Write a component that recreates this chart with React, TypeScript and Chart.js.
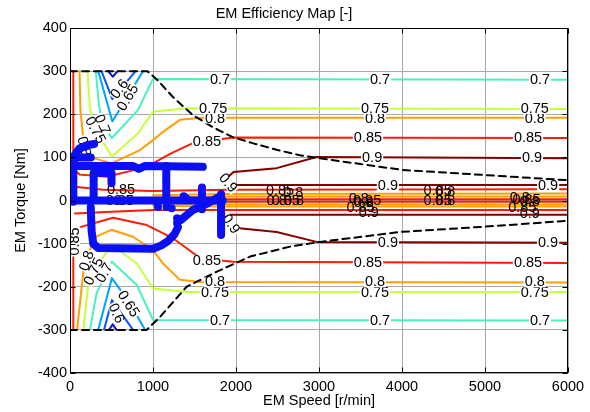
import { useEffect, useRef } from 'react';
import { Chart, registerables } from 'chart.js';

Chart.register(...registerables);

type P = [number, number];

const chartTitle = 'EM Efficiency Map [-]';
const xAxisTitle = 'EM Speed [r/min]';
const yAxisTitle = 'EM Torque [Nm]';

const speedRange: P = [0, 6000];
const torqueRange: P = [-400, 400];
const speedStep = 1000;
const torqueStep = 100;

// Efficiency contour lines (speed r/min, torque Nm)
const eff055Up: P[] = [[460, 300], [515, 287], [575, 300]];
const eff060Up: P[] = [[380, 300], [510, 235], [790, 300]];
const eff065Up: P[] = [[340, 300], [510, 183], [880, 300]];
const eff070Up: P[] = [[310, 300], [350, 220], [400, 170], [505, 145], [820, 210], [1000, 282], [6000, 280]];
const eff075Up: P[] = [[210, 300], [240, 215], [300, 165], [505, 102], [820, 156], [1000, 206], [1405, 214], [6000, 212]];
const eff080Up: P[] = [[115, 300], [125, 210], [165, 135], [250, 100], [500, 86], [843, 117], [1000, 140], [1120, 159], [1325, 187], [1600, 192], [6000, 192]];
const eff085Up: P[] = [[40, 300], [40, 110], [50, 70], [120, 60], [445, 55], [925, 78], [1205, 108], [1480, 133], [1964, 146], [6000, 145]];
const eff090Up: P[] = [[6000, 98], [2970, 101], [2490, 75], [1970, 66], [1890, 52], [1890, 40], [1930, 36], [6000, 36]];
const eff085UpInner: P[] = [[60, 32], [400, 25], [1000, 22], [1900, 25], [6000, 26]];
const eff080UpInner: P[] = [[1000, 12], [1900, 15], [6000, 16]];
const eff080UpCore: P[] = [[900, 6], [1900, 9], [6000, 9]];
const eff085UpCore: P[] = [[0, 3], [6000, 3]];
const eff085LoCore: P[] = [[0, -3], [6000, -3]];
const eff080LoCore: P[] = [[900, -6], [1900, -9], [6000, -9]];
const eff080LoInner: P[] = [[1000, -12], [1900, -14], [6000, -14]];
const eff085LoInner: P[] = [[60, -30], [500, -26], [1000, -22], [1900, -22], [6000, -22]];
const eff090Lo: P[] = [[6000, -33], [1880, -33], [1880, -44], [1910, -58], [2010, -64], [2490, -73], [2970, -96], [6000, -98]];
const eff085Lo: P[] = [[40, -300], [40, -107], [80, -64], [520, -40], [925, -57], [1245, -88], [1570, -134], [1965, -142], [6000, -145]];
const eff080Lo: P[] = [[85, -300], [120, -238], [170, -150], [300, -85], [500, -68], [760, -84], [1000, -115], [1120, -146], [1325, -184], [1570, -189], [6000, -190]];
const eff075Lo: P[] = [[160, -300], [220, -196], [360, -142], [505, -103], [805, -146], [1000, -204], [1405, -212], [6000, -212]];
const eff070Lo: P[] = [[240, -300], [320, -215], [505, -142], [805, -196], [1000, -277], [6000, -278]];
const eff065Lo: P[] = [[340, -300], [505, -180], [700, -232], [905, -300]];
const eff060Lo: P[] = [[410, -300], [505, -231], [760, -300]];
const eff055Lo: P[] = [[470, -300], [515, -287], [560, -300]];

// Max torque envelope (dashed)
const maxTorqueUp: P[] = [[0, 300], [930, 300], [1050, 280], [1240, 240], [1480, 198], [1720, 170], [1960, 147], [2200, 133], [2500, 117], [2770, 105], [3000, 98], [4000, 71], [5000, 59], [6000, 47]];
const maxTorqueLo: P[] = [[0, -300], [925, -300], [1085, -270], [1405, -200], [1770, -165], [2170, -130], [2650, -107], [3012, -96], [3976, -73], [4976, -61], [6000, -47]];

// Operating points (blue)
const opTrace1: P[] = [[40, -3], [40, 80], [55, 105], [110, 120], [200, 128], [290, 131]];
const opTrace2: P[] = [[40, 100], [250, 100]];
const opTrace3: P[] = [[40, 80], [760, 80], [830, 73], [900, 80], [1600, 78]];
const opTrace4: P[] = [[285, 5], [285, 64], [500, 64], [500, 40]];
const opTrace5: P[] = [[1160, 80], [1160, 0]];
const opTrace6: P[] = [[0, 0], [1840, 0]];
const opTrace7: P[] = [[250, -15], [260, -70], [280, -100], [340, -110], [1000, -112], [1100, -104], [1180, -94], [1260, -78], [1300, -62]];
const opTrace8: P[] = [[1590, 30], [1590, -20]];
const opTrace9: P[] = [[1330, -46], [1480, -22], [1665, -6], [1770, 6]];
const opTrace10: P[] = [[1820, 15], [1820, -80]];
const opDots: P[] = [[1060, -15], [1050, -6], [1165, -15], [1225, -18], [1290, -41], [1290, -52], [1370, 10], [1400, 5]];

// Contour labels: text, speed, torque, angle, boxed
const contourLabels: [string, number, number, number, number][] = [
  ['0.7', 1807, 280, 0, 1], ['0.7', 3735, 280, 0, 1], ['0.7', 5663, 280, 0, 1],
  ['0.8', 1747, 190, 0, 1], ['0.8', 3675, 190, 0, 1], ['0.8', 5600, 190, 0, 1],
  ['0.75', 1725, 212, 0, 1], ['0.75', 3675, 212, 0, 1], ['0.75', 5600, 212, 0, 1],
  ['0.85', 1650, 136, 0, 1], ['0.85', 3590, 145, 0, 1], ['0.85', 5518, 145, 0, 1],
  ['0.9', 3640, 98, 0, 1], ['0.9', 5566, 98, 0, 1],
  ['0.9', 3830, 33, 0, 1], ['0.9', 5760, 33, 0, 1],
  ['0.7', 1807, -280, 0, 1], ['0.7', 3735, -280, 0, 1], ['0.7', 5663, -280, 0, 1],
  ['0.75', 1747, -214, 0, 1], ['0.75', 3675, -214, 0, 1], ['0.75', 5600, -214, 0, 1],
  ['0.8', 1747, -190, 0, 1], ['0.8', 3675, -190, 0, 1], ['0.8', 5600, -190, 0, 1],
  ['0.85', 1650, -140, 0, 1], ['0.85', 3590, -145, 0, 1], ['0.85', 5518, -145, 0, 1],
  ['0.9', 3830, -98, 0, 1], ['0.9', 5760, -98, 0, 1],
  ['0.6', 600, 258, -53, 1], ['0.65', 700, 238, -59, 1], ['0.7', 385, 176, 66, 1],
  ['0.75', 300, 163, 62, 1], ['0.8', 165, 125, 75, 1],
  ['0.85', 62, -95, -90, 1], ['0.8', 205, -140, -72, 1], ['0.75', 290, -165, -65, 1],
  ['0.7', 420, -168, -60, 1], ['0.65', 700, -240, 58, 1], ['0.6', 555, -262, 65, 1],
  ['0.9', 1900, 40, 50, 1], ['0.9', 1935, -55, 55, 1],
  ['0.85', 615, 24, 0, 0], ['0.85', 600, 0, 0, 0], ['0.8', 650, 0, 0, 0],
  ['0.85', 2530, 22, 0, 0], ['0.8', 2690, 18, 0, 0], ['0.8', 2490, -1, 0, 0], ['0.85', 2600, -1, 0, 0], ['0.8', 2700, -1, 0, 0],
  ['0.8', 3480, 4, 0, 0], ['0.85', 3580, 0, 0, 0], ['0.8', 3540, -6, 0, 0], ['0.85', 3500, -18, 0, 0], ['0.9', 3600, -30, 0, 0],
  ['0.85', 4430, 23, 0, 0], ['0.8', 4520, 20, 0, 0], ['0.85', 4430, -1, 0, 0], ['0.8', 4520, -1, 0, 0],
  ['0.8', 5420, 6, 0, 0], ['0.85', 5500, 2, 0, 0], ['0.8', 5540, -4, 0, 0], ['0.85', 5450, -17, 0, 0], ['0.9', 5540, -32, 0, 0],
];

const levelColors: Record<string, string> = {
  '0.55': '#0812c0',
  '0.6': '#0a55ff',
  '0.65': '#00a6ff',
  '0.7': '#48f2bf',
  '0.75': '#c6ff3c',
  '0.8': '#ffa000',
  '0.85': '#ff1c00',
  '0.9': '#820000',
};

const contourSet: [string, P[]][] = [
  ['0.55', eff055Up], ['0.6', eff060Up], ['0.65', eff065Up], ['0.7', eff070Up], ['0.75', eff075Up],
  ['0.8', eff080Up], ['0.85', eff085Up], ['0.9', eff090Up],
  ['0.85', eff085UpInner], ['0.8', eff080UpInner], ['0.8', eff080UpCore], ['0.85', eff085UpCore],
  ['0.85', eff085LoCore], ['0.8', eff080LoCore], ['0.8', eff080LoInner], ['0.85', eff085LoInner],
  ['0.9', eff090Lo], ['0.85', eff085Lo], ['0.8', eff080Lo], ['0.75', eff075Lo], ['0.7', eff070Lo],
  ['0.65', eff065Lo], ['0.6', eff060Lo], ['0.55', eff055Lo],
];

const opTraces: P[][] = [opTrace1, opTrace2, opTrace3, opTrace4, opTrace5, opTrace6, opTrace7, opTrace8, opTrace9, opTrace10];

const FONT = '"Liberation Sans", Arial, Helvetica, sans-serif';
const FS = 14.5;
const OP_BLUE = '#0a0ff5';

const toXY = (pts: P[]) => pts.map(([x, y]) => ({ x, y }));

function lineDs(pts: P[], color: string, width: number, dash: number[] = [], clip: any = undefined) {
  return {
    data: toXY(pts),
    showLine: true,
    borderColor: color,
    backgroundColor: color,
    borderWidth: width,
    borderDash: dash,
    pointRadius: 0,
    pointHoverRadius: 0,
    fill: false,
    tension: 0,
    borderCapStyle: 'round',
    borderJoinStyle: 'round',
    clip,
  };
}

export default function App() {
  const ref = useRef<HTMLCanvasElement>(null);
  useEffect(() => {
    document.body.style.margin = '0';
    const blueSets: any[] = opTraces.map((t) => lineDs(t, OP_BLUE, 8, [], 0));
    blueSets.push({
      data: toXY(opDots), showLine: false, pointRadius: 4, pointBackgroundColor: OP_BLUE,
      pointBorderWidth: 0, clip: 0,
    });
    const labelAfterIndex = blueSets.length;
    const dashSets = [
      lineDs(maxTorqueUp, '#000', 2, [7, 5]),
      lineDs(maxTorqueLo, '#000', 2, [7, 5]),
    ];
    const contourSets = contourSet.map(([lvl, pts]) => lineDs(pts, levelColors[lvl], 2));

    const overlay = {
      id: 'overlay',
      afterDatasetDraw(chart: any, args: any) {
        if (args.index !== labelAfterIndex) return;
        const { ctx, chartArea: a, scales } = chart;
        ctx.save();
        ctx.beginPath();
        ctx.rect(a.left, a.top, a.right - a.left, a.bottom - a.top);
        ctx.clip();
        ctx.font = `${FS}px ${FONT}`;
        ctx.textAlign = 'center';
        ctx.textBaseline = 'middle';
        for (const [t, sx, ty, ang, boxed] of contourLabels) {
          const px = scales.x.getPixelForValue(sx);
          const py = scales.y.getPixelForValue(ty);
          ctx.save();
          ctx.translate(px, py);
          ctx.rotate((ang * Math.PI) / 180);
          if (boxed) {
            const w = ctx.measureText(t).width;
            ctx.fillStyle = '#fff';
            ctx.fillRect(-w / 2 - 1, -5, w + 2, 10);
          }
          ctx.fillStyle = '#000';
          ctx.fillText(t, 0, 0);
          ctx.restore();
        }
        ctx.restore();
      },
      afterDraw(chart: any) {
        const { ctx, chartArea: a, scales } = chart;
        ctx.save();
        ctx.strokeStyle = '#000';
        ctx.lineWidth = 1;
        const L = Math.round(a.left) + 0.5, R = Math.round(a.right) - 0.5;
        const T = Math.round(a.top) + 0.5, B = Math.round(a.bottom) - 0.5;
        ctx.strokeRect(L, T, R - L, B - T);
        ctx.beginPath();
        for (let v = speedRange[0]; v <= speedRange[1]; v += speedStep) {
          const px = Math.round(scales.x.getPixelForValue(v)) + 0.5;
          ctx.moveTo(px, B); ctx.lineTo(px, B - 5);
          ctx.moveTo(px, T); ctx.lineTo(px, T + 5);
        }
        for (let v = torqueRange[0]; v <= torqueRange[1]; v += torqueStep) {
          const py = Math.round(scales.y.getPixelForValue(v)) + 0.5;
          ctx.moveTo(L, py); ctx.lineTo(L + 5, py);
          ctx.moveTo(R, py); ctx.lineTo(R - 5, py);
        }
        ctx.stroke();
        ctx.restore();
      },
    };

    const font = { family: FONT, size: FS };
    const chart = new Chart(ref.current!, {
      type: 'scatter',
      data: { datasets: [...blueSets, ...dashSets, ...contourSets] as any },
      options: {
        responsive: false,
        animation: false,
        events: [],
        layout: { padding: { left: 0, right: 22, top: 0, bottom: 0 } },
        plugins: {
          legend: { display: false },
          tooltip: { enabled: false },
          title: {
            display: true, text: chartTitle, color: '#000',
            font: { family: FONT, size: FS, weight: 'normal' },
            padding: { top: 5, bottom: 5.6 },
          },
        },
        scales: {
          x: {
            type: 'linear', min: speedRange[0], max: speedRange[1],
            ticks: { stepSize: speedStep, color: '#000', font, padding: 5, maxRotation: 0, autoSkip: false, callback: (v: any) => String(v) },
            grid: { color: '#a8a8a8', lineWidth: 1, drawTicks: false },
            border: { display: false },
            title: { display: true, text: xAxisTitle, color: '#000', font, padding: { top: 0, bottom: 2 } },
            afterFit: (s: any) => { s.height = 39; },
          },
          y: {
            type: 'linear', min: torqueRange[0], max: torqueRange[1],
            ticks: { stepSize: torqueStep, color: '#000', font, padding: 3, autoSkip: false, callback: (v: any) => String(v) },
            grid: { color: '#a8a8a8', lineWidth: 1, drawTicks: false },
            border: { display: false },
            title: { display: true, text: yAxisTitle, color: '#000', font, padding: { top: 12, bottom: 0 } },
            afterFit: (s: any) => { s.width = 70; },
          },
        },
      } as any,
      plugins: [overlay],
    });
    return () => chart.destroy();
  }, []);

  return (
    <div style={{ width: 590, height: 412 }}>
      <canvas ref={ref} width={590} height={412} style={{ display: 'block' }} />
    </div>
  );
}
